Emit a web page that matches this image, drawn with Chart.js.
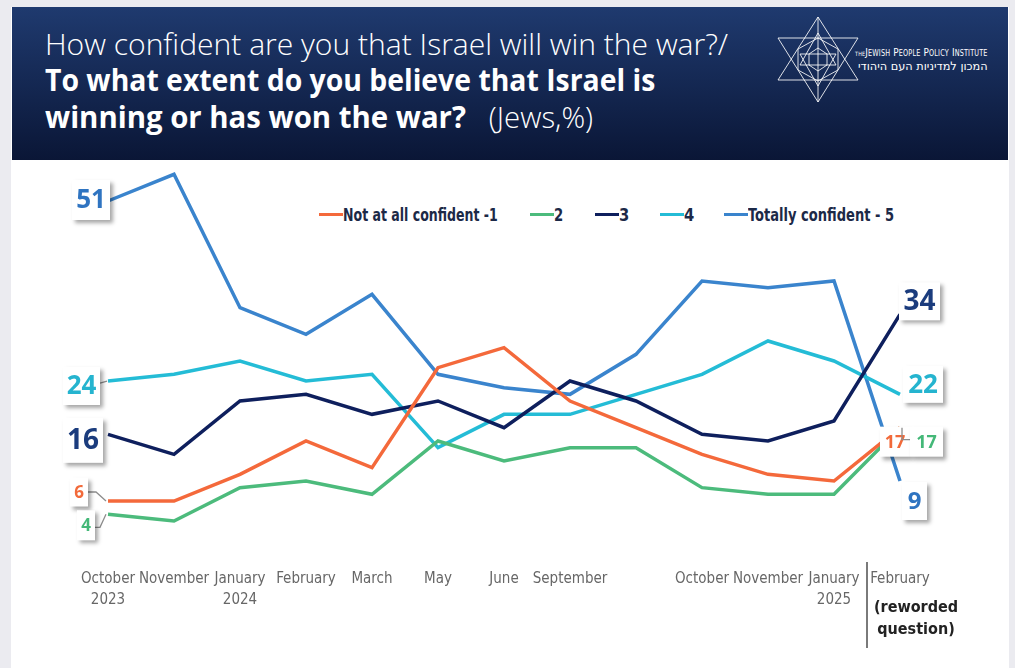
<!DOCTYPE html>
<html>
<head>
<meta charset="utf-8">
<script src="https://cdn.jsdelivr.net/npm/chart.js@4.4.1/dist/chart.umd.min.js"></script>
<style>
  html, body { margin: 0; padding: 0; }
  body { width: 1015px; height: 668px; background: #ebebf0; position: relative; overflow: hidden; font-family: 'Open Sans', sans-serif; }
  #panel { position: absolute; left: 11px; top: 7px; width: 998px; height: 661px; background: #ffffff; }
  #header { position: absolute; left: 12px; top: 7px; width: 996px; height: 153px; background: linear-gradient(#1f3a6f, #0a1636); }
  .tl { position: absolute; left: 45px; color: #ffffff; white-space: nowrap; font-size: 30px; line-height: 36px; transform-origin: 0 50%; }
  .light { font-weight: 300; }
  .bold { font-weight: 700; }
  #logoText { position: absolute; left: 855px; top: 46px; color: #fff; white-space: nowrap; font-family: 'Liberation Sans Narrow', 'DejaVu Sans Condensed', sans-serif; font-size: 11px; font-variant: small-caps; letter-spacing: 0.2px; transform-origin: 0 50%; }
  #logoHeb { position: absolute; left: 858px; top: 59px; color: #fff; white-space: nowrap; font-family: 'DejaVu Sans', sans-serif; font-size: 11.5px; direction: rtl; transform-origin: 0 50%; }
  #logo { position: absolute; left: 770px; top: 5px; }
  #legend { position: absolute; left: 0; top: 0; }
  .li { position: absolute; top: 203px; height: 22px; display: flex; align-items: center; white-space: nowrap; }
  .sw { display: inline-block; width: 24px; height: 3px; }
  .lt { display: inline-block; font-family: 'Liberation Sans Narrow', 'DejaVu Sans Condensed', sans-serif; font-weight: 700; font-size: 18px; color: #1c2947; transform-origin: 0 50%; }
  #chart { position: absolute; left: 0; top: 0; }
</style>
</head>
<body>
<div id="panel"></div>
<div id="header">
</div>
<div class="tl light" style="top:26px" data-w="683">How confident are you that Israel will win the war?/</div>
<div class="tl bold" style="top:62px" data-w="610">To what extent do you believe that Israel is</div>
<div class="tl" style="top:99px" data-w="548"><span class="bold">winning or has won the war?</span><span class="light">&nbsp;&nbsp;&nbsp;(Jews,%)</span></div>

<svg id="logo" width="95" height="110" viewBox="0 0 95 110">
  <g fill="none" stroke="rgba(255,255,255,0.85)" stroke-width="1">
    <polygon points="48,12 8,75 88,75"/>
    <polygon points="48,97 8,33 88,33"/>
    <polygon points="48,33 68,44 68,65 48,76 28,65 28,44"/>
    <polygon points="48,28 66,60 30,60"/>
    <polygon points="48,81 66,49 30,49"/>
    <polygon points="48,43 57,49 57,60 48,66 39,60 39,49"/>
    <line x1="48" y1="12" x2="48" y2="97"/>
  </g>
</svg>
<div id="logoText" data-w="133"><span style="font-size:6px">THE</span>Jewish People Policy Institute</div>
<div id="logoHeb" data-w="130">המכון למדיניות העם היהודי</div>

<div id="legend"></div>
<canvas id="chart" width="1015" height="668"></canvas>

<script>
// Survey waves (x axis). The blank slot is a wave with no printed month.
const categories = [
  ["October", "2023"], "November", ["January", "2024"], "February", "March", "May",
  "June", "September", "", "October", "November", ["January", "2025"], "February"
];

// Share of Jewish respondents per answer (%)
const notAtAllConfident = [6, 6, 10, 15, 11, 26, 29, 21, 17, 13, 10, 9, 17];
const level2 = [4, 3, 8, 9, 7, 15, 12, 14, 14, 8, 7, 7, 17];
const level3 = [16, 13, 21, 22, 19, 21, 17, 24, 21, 16, 15, 18, 34];
const level4 = [24, 25, 27, 24, 25, 14, 19, 19, 22, 25, 30, 27, 22];
const totallyConfident = [51, 55, 35, 31, 37, 25, 23, 22, 28, 39, 38, 39, 9];

const seriesNames = ["Not at all confident -1", "2", "3", "4", "Totally confident - 5"];
const seriesColors = ["#f4693b", "#4cbb7c", "#0e1f5d", "#24bcd6", "#3a84cd"];
const labelColors = ["#f26a3a", "#44b878", "#1b3c7d", "#25b4cf", "#2f74c1"];

// Value boxes at both ends of each line: offsets from the data point, box size, font size, optional leader
const endLabels = [
  { first: { dx: -29, dy: -9, w: 18, h: 29, size: 17, leader: [[-20, -9], [-12, -9], [-2, 0]] },
    last:  { dx: -5, dy: 14, w: 30, h: 30, size: 18 } },
  { first: { dx: -22, dy: 11, w: 18, h: 30, size: 17, leader: [[-13, 13], [-8, 13], [-2, 0]] },
    last:  { dx: 26.5, dy: 14, w: 33, h: 30, size: 18, leader: [[2, 0], [2, 12], [10, 12]] } },
  { first: { dx: -25, dy: 6, w: 40, h: 45, size: 28 },
    last:  { dx: 19.5, dy: -13, w: 41, h: 38, size: 28 } },
  { first: { dx: -26.5, dy: 5, w: 37, h: 38, size: 26, leader: [[-8, 2], [-1, 0]] },
    last:  { dx: 23, dy: -10, w: 40, h: 37, size: 26 } },
  { first: { dx: -17, dy: -1, w: 38, h: 40, size: 26 },
    last:  { dx: 14.5, dy: 20, w: 25, h: 38, size: 24 } }
];

const allSeries = [notAtAllConfident, level2, level3, level4, totallyConfident];

// HTML legend
const legendPos = [319, 530, 595, 660, 724];
const legendW = [155, 9, 10, 10, 146];
const legend = document.getElementById('legend');
seriesNames.forEach((name, i) => {
  const item = document.createElement('div');
  item.className = 'li';
  item.style.left = legendPos[i] + 'px';
  item.innerHTML = '<span class="sw" style="background:' + seriesColors[i] + '"></span>' +
    '<span class="lt" data-w="' + legendW[i] + '">' + name + '</span>';
  legend.appendChild(item);
});

const endLabelPlugin = {
  id: 'endLabels',
  afterDatasetsDraw(chart) {
    const ctx = chart.ctx;
    chart.data.datasets.forEach((ds, i) => {
      const meta = chart.getDatasetMeta(i);
      const pts = [[0, endLabels[i].first], [ds.data.length - 1, endLabels[i].last]];
      pts.forEach(([idx, spec]) => {
        const p = meta.data[idx];
        const cx = p.x + spec.dx, cy = p.y + spec.dy;
        ctx.save();
        if (spec.leader) {
          ctx.strokeStyle = '#8d8d8d';
          ctx.lineWidth = 1.3;
          ctx.beginPath();
          spec.leader.forEach(([lx, ly], k) => {
            if (k === 0) ctx.moveTo(p.x + lx, p.y + ly); else ctx.lineTo(p.x + lx, p.y + ly);
          });
          ctx.stroke();
        }
        ctx.shadowColor = 'rgba(0,0,0,0.35)';
        ctx.shadowOffsetX = 3;
        ctx.shadowOffsetY = 3;
        ctx.shadowBlur = 4;
        ctx.fillStyle = '#ffffff';
        ctx.fillRect(cx - spec.w / 2, cy - spec.h / 2, spec.w, spec.h);
        ctx.shadowColor = 'transparent';
        ctx.fillStyle = labelColors[i];
        ctx.font = '700 ' + spec.size + 'px "Open Sans", sans-serif';
        ctx.textAlign = 'center';
        ctx.textBaseline = 'middle';
        ctx.fillText(String(ds.data[idx]), cx, cy + 1);
        ctx.restore();
      });
    });
  }
};

const axisNotePlugin = {
  id: 'axisNote',
  afterDraw(chart) {
    const ctx = chart.ctx;
    const x = chart.scales.x;
    const n = categories.length;
    const sepX = (x.getPixelForValue(n - 2) + x.getPixelForValue(n - 1)) / 2;
    ctx.save();
    ctx.strokeStyle = '#7a7a7a';
    ctx.lineWidth = 2;
    ctx.beginPath();
    ctx.moveTo(sepX, 562);
    ctx.lineTo(sepX, 648);
    ctx.stroke();
    const lx = x.getPixelForValue(n - 1) + 16;
    ctx.fillStyle = '#222222';
    ctx.font = '700 16px "Liberation Sans Narrow", "DejaVu Sans Condensed", sans-serif';
    ctx.textAlign = 'center';
    ctx.textBaseline = 'middle';
    ctx.fillText('(reworded', lx, 608);
    ctx.fillText('question)', lx, 630);
    ctx.restore();
  }
};

function buildChart() {
  new Chart(document.getElementById('chart'), {
    type: 'line',
    data: {
      labels: categories,
      datasets: allSeries.map((vals, i) => ({
        label: seriesNames[i],
        data: vals,
        borderColor: seriesColors[i],
        backgroundColor: seriesColors[i],
        borderWidth: 3.5,
        pointRadius: 0,
        tension: 0,
        clip: false
      }))
    },
    options: {
      responsive: false,
      devicePixelRatio: 1,
      animation: false,
      layout: { padding: { left: 108, right: 115, top: 141, bottom: 0 } },
      plugins: { legend: { display: false }, tooltip: { enabled: false } },
      scales: {
        y: { display: false, min: 0, max: 60 },
        x: {
          offset: false,
          grid: { display: false, drawTicks: false },
          border: { display: false },
          afterFit(scale) { scale.height = 127; },
          ticks: {
            autoSkip: false,
            maxRotation: 0,
            minRotation: 0,
            padding: 28,
            color: '#676767',
            font: { family: '"Liberation Sans Narrow", "DejaVu Sans Condensed", sans-serif', size: 15, lineHeight: 1.4 }
          }
        }
      }
    },
    plugins: [endLabelPlugin, axisNotePlugin]
  });
}

function fitTexts() {
  document.querySelectorAll('[data-w]').forEach(el => {
    const target = parseFloat(el.getAttribute('data-w'));
    const w = el.scrollWidth;
    if (w > 0) el.style.transform = 'scaleX(' + (target / w) + ')';
  });
}

(document.fonts && document.fonts.ready ? document.fonts.ready : Promise.resolve()).then(() => {
  fitTexts();
  buildChart();
});
</script>
</body>
</html>
